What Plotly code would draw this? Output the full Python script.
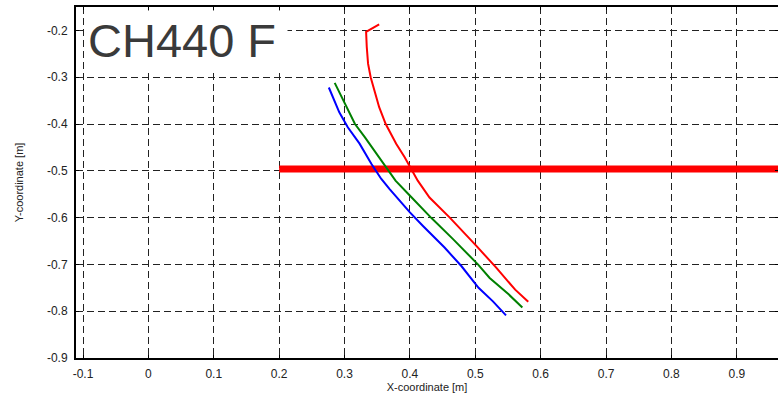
import plotly.graph_objects as go

# Trajectory data
red_x = [0.353, 0.333, 0.334, 0.336, 0.340, 0.353, 0.363, 0.379, 0.392, 0.402, 0.412, 0.430, 0.461, 0.502, 0.532, 0.561, 0.581]
red_y = [-0.187, -0.203, -0.235, -0.271, -0.300, -0.364, -0.400, -0.442, -0.471, -0.496, -0.521, -0.557, -0.600, -0.661, -0.707, -0.754, -0.780]

green_x = [0.285, 0.298, 0.316, 0.331, 0.349, 0.361, 0.378, 0.402, 0.433, 0.466, 0.504, 0.522, 0.551, 0.572]
green_y = [-0.312, -0.350, -0.400, -0.428, -0.464, -0.489, -0.521, -0.556, -0.601, -0.646, -0.700, -0.729, -0.764, -0.792]

blue_x = [0.276, 0.282, 0.292, 0.305, 0.323, 0.341, 0.356, 0.369, 0.384, 0.400, 0.420, 0.453, 0.479, 0.505, 0.527, 0.547]
blue_y = [-0.322, -0.342, -0.375, -0.407, -0.442, -0.485, -0.517, -0.539, -0.563, -0.589, -0.618, -0.664, -0.704, -0.750, -0.779, -0.809]

# Thick horizontal reference bar
bar_x = [0.2, 1.0]
bar_y = [-0.496, -0.496]

x_ticks = [-0.1, 0, 0.1, 0.2, 0.3, 0.4, 0.5, 0.6, 0.7, 0.8, 0.9]
x_labels = ["-0.1", "0", "0.1", "0.2", "0.3", "0.4", "0.5", "0.6", "0.7", "0.8", "0.9"]
y_ticks = [-0.9, -0.8, -0.7, -0.6, -0.5, -0.4, -0.3, -0.2]
y_labels = ["-0.9", "-0.8", "-0.7", "-0.6", "-0.5", "-0.4", "-0.3", "-0.2"]

title_text = "CH440 F"

fig = go.Figure()
fig.add_trace(go.Scatter(x=bar_x, y=bar_y, mode="lines",
                         line=dict(color="#ff0000", width=7), showlegend=False, hoverinfo="skip"))
fig.add_trace(go.Scatter(x=red_x, y=red_y, mode="lines",
                         line=dict(color="#ff0000", width=2), showlegend=False))
fig.add_trace(go.Scatter(x=green_x, y=green_y, mode="lines",
                         line=dict(color="#008000", width=2), showlegend=False))
fig.add_trace(go.Scatter(x=blue_x, y=blue_y, mode="lines",
                         line=dict(color="#0000ff", width=2), showlegend=False))

axis_common = dict(
    showline=True, linecolor="black", linewidth=2, mirror="ticks",
    ticks="inside", ticklen=3, tickcolor="black", tickwidth=1,
    showgrid=True, gridcolor="#222222", gridwidth=1, griddash="7px,4px",
    zeroline=False, automargin=False,
    tickfont=dict(family="Liberation Sans, Arial", size=12, color="#222222"),
)

fig.update_xaxes(range=[-0.1107, 0.963], tickvals=x_ticks, ticktext=x_labels,
                 ticklabelstandoff=4,
                 title=dict(text="X-coordinate [m]", standoff=0,
                            font=dict(family="Liberation Sans, Arial", size=11, color="#222222")),
                 **axis_common)
fig.update_yaxes(range=[-0.9, -0.15], tickvals=y_ticks, ticktext=y_labels,
                 ticklabelstandoff=4,
                 title=dict(text="Y-coordinate [m]", standoff=21,
                            font=dict(family="Liberation Sans, Arial", size=11, color="#222222")),
                 **axis_common)

fig.add_annotation(text=title_text, xref="paper", yref="paper", x=0.012, y=0.991,
                   xanchor="left", yanchor="top", showarrow=False, width=196, align="left",
                   font=dict(family="Liberation Sans, Arial", size=47, color="#3a3a3a"),
                   bgcolor="white", borderpad=3)

fig.update_layout(width=778, height=398, margin=dict(l=76, r=0, t=7, b=40, autoexpand=False),
                  plot_bgcolor="white", paper_bgcolor="white")

fig.write_html("out.html", config={"displayModeBar": False},
               post_script="document.body.style.margin='0';document.body.style.overflow='hidden';")
